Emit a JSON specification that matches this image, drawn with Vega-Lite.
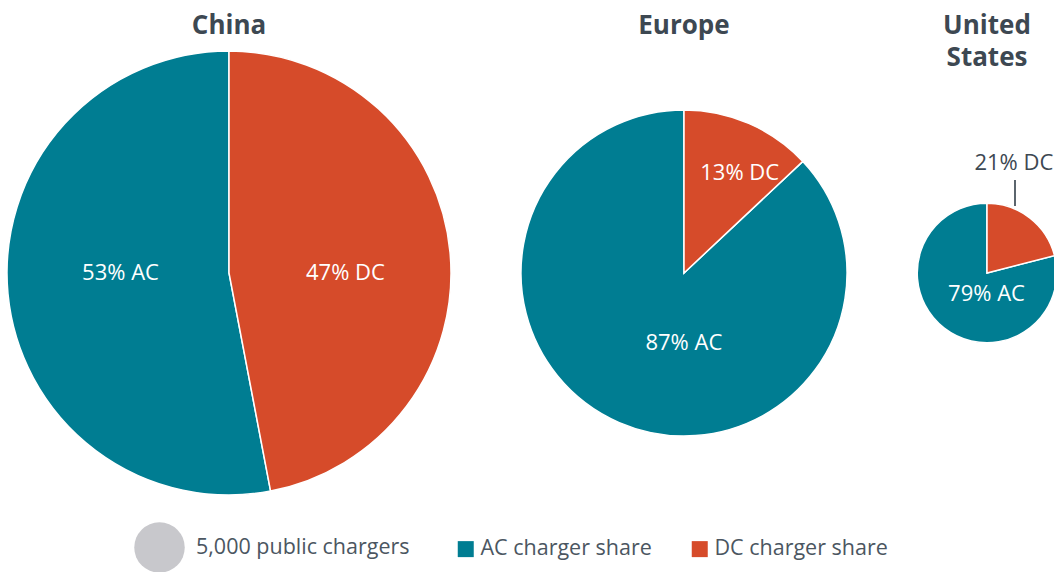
{
  "$schema": "https://vega.github.io/schema/vega-lite/v6.json",
  "background": "white",
  "padding": {"top": 13, "left": 0, "right": 0, "bottom": 0},
  "spacing": 0,
  "bounds": "flush",
  "config": {
    "view": {"stroke": null},
    "title": {"font": "Open Sans", "fontSize": 26, "fontWeight": "bold", "color": "#3d4852", "lineHeight": 32, "anchor": "middle"},
    "text": {"font": "Open Sans"}
  },
  "data": {
    "values": [
      {"region": "China", "type": "AC charger share", "share": 53, "chargers": 395000},
      {"region": "China", "type": "DC charger share", "share": 47, "chargers": 395000},
      {"region": "Europe", "type": "AC charger share", "share": 87, "chargers": 213000},
      {"region": "Europe", "type": "DC charger share", "share": 13, "chargers": 213000},
      {"region": "United States", "type": "AC charger share", "share": 79, "chargers": 39000},
      {"region": "United States", "type": "DC charger share", "share": 21, "chargers": 39000}
    ]
  },
  "transform": [
    {"calculate": "datum.share + '% ' + (datum.type === 'AC charger share' ? 'AC' : 'DC')", "as": "label"}
  ],
  "hconcat": [
    {
      "width": 458, "height": 452,
      "title": {"text": "China", "offset": 8},
      "transform": [{"filter": "datum.region === 'China'"}],
      "layer": [
        {
          "mark": {"type": "arc", "stroke": "white", "strokeWidth": 1.5},
          "encoding": {
            "theta": {"field": "share", "type": "quantitative", "stack": true},
            "order": {"field": "type", "sort": "descending"},
            "radius": {"field": "chargers", "type": "quantitative", "scale": {"type": "sqrt", "zero": true, "domain": [0, 395000], "range": [0, 222]}},
            "color": {
              "field": "type", "type": "nominal",
              "scale": {"domain": ["AC charger share", "DC charger share"], "range": ["#007d92", "#d64b2a"]},
              "legend": {
                "orient": "none", "legendX": 455, "legendY": 491, "direction": "horizontal", "title": null,
                "symbolSize": 256, "symbolType": "square", "symbolStrokeWidth": 0, "symbolOpacity": 1,
                "labelFont": "Open Sans", "labelFontSize": 21.5, "labelColor": "#4b5661", "labelLimit": 0,
                "columnPadding": 37, "labelOffset": 4
              }
            }
          }
        },
        {
          "mark": {"type": "point", "filled": true, "color": "#c8c8cc", "opacity": 0},
          "encoding": {
            "shape": {
              "datum": "5,000 public chargers",
              "scale": {"domain": ["5,000 public chargers"], "range": ["circle"]},
              "legend": {
                "orient": "none", "legendX": 134, "legendY": 475, "title": null,
                "symbolSize": 2550, "symbolType": "circle", "symbolStrokeWidth": 0, "symbolOpacity": 1, "symbolFillColor": "#c8c8cc",
                "labelFont": "Open Sans", "labelFontSize": 21.5, "labelColor": "#4b5661", "labelLimit": 0,
                "labelOffset": 11
              }
            }
          }
        },
        {
          "mark": {"type": "text", "fontSize": 22, "fontWeight": 500, "color": "white", "dy": -10},
          "encoding": {
            "theta": {"field": "share", "type": "quantitative", "stack": true},
            "order": {"field": "type", "sort": "descending"},
            "radius": {"value": 109},
            "text": {"condition": {"test": "datum.type === 'AC charger share'", "field": "label"}, "value": ""}
          }
        },
        {
          "mark": {"type": "text", "fontSize": 22, "fontWeight": 500, "color": "white", "dy": 11},
          "encoding": {
            "theta": {"field": "share", "type": "quantitative", "stack": true},
            "order": {"field": "type", "sort": "descending"},
            "radius": {"value": 117},
            "text": {"condition": {"test": "datum.type === 'DC charger share'", "field": "label"}, "value": ""}
          }
        }
      ]
    },
    {
      "width": 452, "height": 452,
      "title": {"text": "Europe", "offset": 8},
      "transform": [{"filter": "datum.region === 'Europe'"}],
      "layer": [
        {
          "mark": {"type": "arc", "stroke": "white", "strokeWidth": 1.5},
          "encoding": {
            "theta": {"field": "share", "type": "quantitative", "stack": true},
            "order": {"field": "type", "sort": "descending"},
            "radius": {"field": "chargers", "type": "quantitative", "scale": {"type": "sqrt", "zero": true, "domain": [0, 395000], "range": [0, 222]}},
            "color": {
              "field": "type", "type": "nominal",
              "scale": {"domain": ["AC charger share", "DC charger share"], "range": ["#007d92", "#d64b2a"]}
            }
          }
        },
        {
          "mark": {"type": "text", "fontSize": 22, "fontWeight": 500, "color": "white", "dx": 30},
          "encoding": {
            "theta": {"field": "share", "type": "quantitative", "stack": true},
            "order": {"field": "type", "sort": "descending"},
            "radius": {"value": 76},
            "text": {"condition": {"test": "datum.type === 'AC charger share'", "field": "label"}, "value": ""}
          }
        },
        {
          "mark": {"type": "text", "fontSize": 22, "fontWeight": 500, "color": "white", "dx": 14, "dy": -4},
          "encoding": {
            "theta": {"field": "share", "type": "quantitative", "stack": true},
            "order": {"field": "type", "sort": "descending"},
            "radius": {"value": 105},
            "text": {"condition": {"test": "datum.type === 'DC charger share'", "field": "label"}, "value": ""}
          }
        }
      ]
    },
    {
      "width": 154, "height": 452,
      "title": {"text": ["United", "States"], "offset": -24},
      "transform": [{"filter": "datum.region === 'United States'"}],
      "layer": [
        {
          "mark": {"type": "arc", "stroke": "white", "strokeWidth": 1.5},
          "encoding": {
            "theta": {"field": "share", "type": "quantitative", "stack": true},
            "order": {"field": "type", "sort": "descending"},
            "radius": {"field": "chargers", "type": "quantitative", "scale": {"type": "sqrt", "zero": true, "domain": [0, 395000], "range": [0, 222]}},
            "color": {
              "field": "type", "type": "nominal",
              "scale": {"domain": ["AC charger share", "DC charger share"], "range": ["#007d92", "#d64b2a"]}
            }
          }
        },
        {
          "mark": {"type": "text", "fontSize": 22, "fontWeight": 500, "color": "white", "dx": 13, "dy": 4},
          "encoding": {
            "theta": {"field": "share", "type": "quantitative", "stack": true},
            "order": {"field": "type", "sort": "descending"},
            "radius": {"value": 22},
            "text": {"condition": {"test": "datum.type === 'AC charger share'", "field": "label"}, "value": ""}
          }
        },
        {
          "mark": {"type": "text", "fontSize": 22, "fontWeight": 500, "color": "#3d4852", "dx": -43, "dy": -20},
          "encoding": {
            "theta": {"field": "share", "type": "quantitative", "stack": true},
            "order": {"field": "type", "sort": "descending"},
            "radius": {"value": 114},
            "text": {"condition": {"test": "datum.type === 'DC charger share'", "field": "label"}, "value": ""}
          }
        },
        {
          "mark": {"type": "rule", "color": "#3d4852", "strokeWidth": 1.2, "xOffset": 28},
          "encoding": {
            "x": {"datum": 0.5, "type": "quantitative", "scale": {"domain": [0, 1]}, "axis": null},
            "y": {"value": {"expr": "height / 2 - 93"}},
            "y2": {"value": {"expr": "height / 2 - 67"}}
          }
        }
      ]
    }
  ]
}
